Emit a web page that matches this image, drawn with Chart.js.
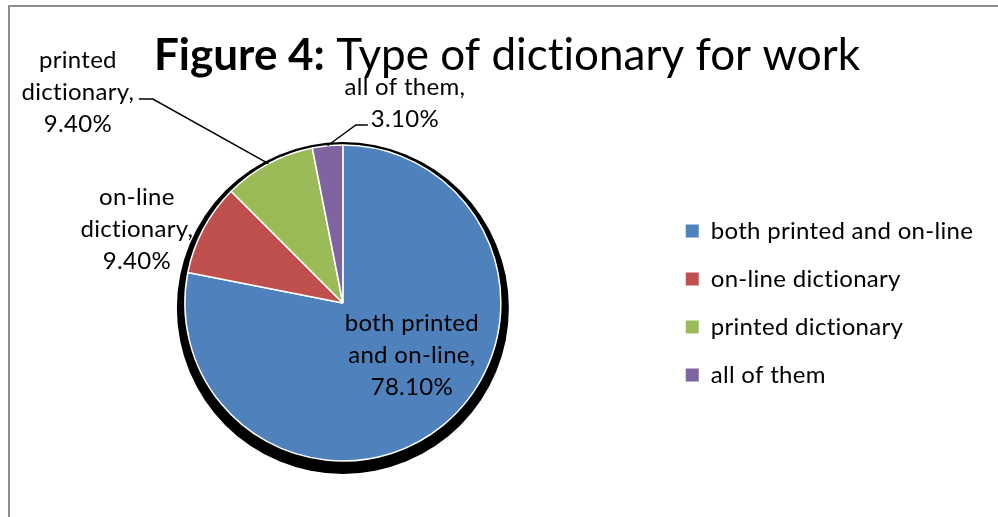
<!DOCTYPE html>
<html>
<head>
<meta charset="utf-8">
<script src="https://cdn.jsdelivr.net/npm/chart.js@4.4.0/dist/chart.umd.min.js"></script>
<style>
  html, body { margin: 0; padding: 0; background: #fff; }
  #wrap { width: 998px; height: 517px; }
</style>
</head>
<body>
<div id="wrap"><canvas id="myChart"></canvas></div>

<script>
// data
const categories = ['both printed and on-line', 'on-line dictionary', 'printed dictionary', 'all of them'];
const shares = [78.1, 9.4, 9.4, 3.1];
const sliceColors = ['#4F81BD', '#C0504D', '#9BBB59', '#8064A2'];
// data label text, wrapped the way Excel did it
const labelLines = [
  ['both printed', 'and on-line,'],
  ['on-line', 'dictionary,'],
  ['printed', 'dictionary,'],
  ['all of them,']
];

// label block centres, relative to the pie centre
const labelOffsets = [[69, 52], [-206, -74], [-265, -211], [62, -200]];
// leader line start + elbow (relative to pie centre); last point is the slice edge
const leaderOffsets = [null, null, [[-204, -204], [-190, -204]], [[25, -178], [13, -178]]];

const labelFont = '24px Lato';
const lineH = 32;

function labelText(i) {
  return labelLines[i].concat([shares[i].toFixed(2) + '%']);
}

function drawLabel(ctx, arc, i) {
  const lines = labelText(i);
  const cx = arc.x + labelOffsets[i][0];
  const top = arc.y + labelOffsets[i][1] - (lines.length - 1) * lineH / 2;
  ctx.save();
  ctx.font = labelFont;
  ctx.fillStyle = '#000';
  ctx.textAlign = 'center';
  ctx.textBaseline = 'middle';
  lines.forEach((t, k) => ctx.fillText(t, cx, top + k * lineH));
  ctx.restore();
}

const pieExtras = {
  id: 'pieExtras',
  beforeDraw(chart) {
    const ctx = chart.ctx;
    // a bit of tracking: breaks Lato's "ti" ligature and widens it towards Calibri
    ctx.letterSpacing = '0.3px';
    ctx.save();
    ctx.strokeStyle = '#8e8e8e';
    ctx.lineWidth = 2;
    ctx.beginPath();
    ctx.moveTo(9, chart.height);
    ctx.lineTo(9, 6);
    ctx.lineTo(chart.width, 6);
    ctx.stroke();

    // title, bold part + normal part
    const bold = 'Figure 4:';
    const rest = ' Type of dictionary for work';
    ctx.letterSpacing = '0.01px';
    ctx.font = 'bold 44px Lato';
    const w1 = ctx.measureText(bold).width;
    ctx.font = '44px Lato';
    const w2 = ctx.measureText(rest).width;
    let x = chart.width / 2 + 8 - (w1 + w2) / 2;
    ctx.fillStyle = '#000';
    ctx.textBaseline = 'alphabetic';
    ctx.font = 'bold 44px Lato';
    ctx.fillText(bold, x, 70);
    ctx.font = '44px Lato';
    ctx.fillText(rest, x + w1, 70);
    ctx.restore();
  },
  beforeDatasetsDraw(chart) {
    const ctx = chart.ctx;
    const arcs = chart.getDatasetMeta(0).data;
    // outside labels sit under the pie shadow
    for (let i = 1; i < arcs.length; i++) drawLabel(ctx, arcs[i], i);
    const a = arcs[0];
    ctx.save();
    ctx.fillStyle = '#000';
    ctx.beginPath();
    ctx.arc(a.x, a.y + 5, a.outerRadius + 8, 0, Math.PI * 2);
    ctx.fill();
    ctx.restore();
  },
  afterDatasetsDraw(chart) {
    const ctx = chart.ctx;
    const arcs = chart.getDatasetMeta(0).data;
    drawLabel(ctx, arcs[0], 0);
    ctx.save();
    ctx.strokeStyle = '#000';
    ctx.lineWidth = 1.5;
    arcs.forEach((arc, i) => {
      const pts = leaderOffsets[i];
      if (!pts) return;
      const mid = (arc.startAngle + arc.endAngle) / 2;
      ctx.beginPath();
      ctx.moveTo(arc.x + pts[0][0], arc.y + pts[0][1]);
      ctx.lineTo(arc.x + pts[1][0], arc.y + pts[1][1]);
      ctx.lineTo(arc.x + Math.cos(mid) * arc.outerRadius, arc.y + Math.sin(mid) * arc.outerRadius);
      ctx.stroke();
    });
    ctx.restore();
  }
};

Chart.defaults.font.family = 'Lato';

const ctx = document.getElementById('myChart');

const myPie = new Chart(ctx, {
  type: 'pie',
  data: {
    labels: categories,
    datasets: [{
      data: shares,
      backgroundColor: sliceColors,
      borderColor: '#ffffff',
      borderWidth: 1.5,
      hoverOffset: 0,
      radius: 158
    }]
  },
  options: {
    responsive: true,
    maintainAspectRatio: false,
    animation: false,
    layout: { padding: { left: 24, right: 22, top: 90, bottom: 1 } },
    plugins: {
      tooltip: { enabled: false },
      legend: {
        position: 'right',
        labels: {
          color: '#000',
          font: { size: 24 },
          boxWidth: 13,
          boxHeight: 13,
          padding: 24,
          generateLabels(chart) {
            const items = Chart.overrides.pie.plugins.legend.labels.generateLabels(chart);
            items.forEach(it => { it.strokeStyle = it.fillStyle; it.lineWidth = 0; });
            return items;
          }
        }
      }
    }
  },
  plugins: [pieExtras]
});
</script>
</body>
</html>
